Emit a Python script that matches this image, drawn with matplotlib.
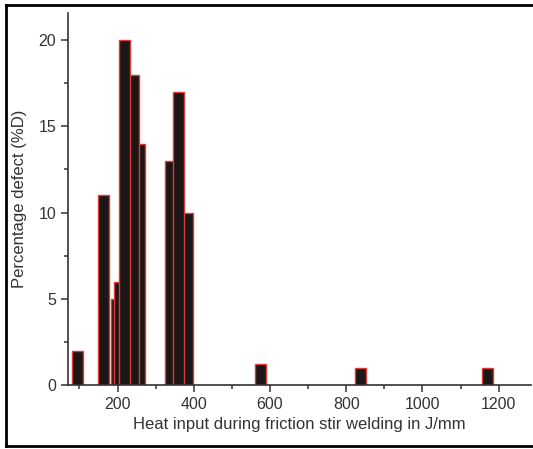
import matplotlib
matplotlib.use("Agg")
import matplotlib.pyplot as plt
from matplotlib.lines import Line2D
from matplotlib.ticker import MultipleLocator
import numpy as np

# heat input (J/mm) and percentage defect
heat_input = [94, 164, 198, 204, 218, 243, 258, 338, 359, 383, 575, 838, 1172]
defect = [2, 11, 5, 6, 20, 18, 14, 13, 17, 10, 1.2, 1, 1]

plt.rcParams['font.family'] = ['Liberation Sans', 'DejaVu Sans']

W, H = 533, 449
fig = plt.figure(figsize=(W / 100, H / 100), dpi=100)
ax = fig.add_axes([68 / W, 1 - 385 / H, (531 - 68) / W, (385 - 13) / H])

# taller bars sit on top of the shorter ones they overlap
order = np.argsort(defect, kind='stable')
for i in order:
    ax.bar(heat_input[i], defect[i], width=29, color='#1c1717',
           edgecolor='#dd3b33', linewidth=1.0, zorder=2 + defect[i] / 100)

ax.set_xlim(70, 1285)
ax.set_ylim(0, 21.57)
ax.xaxis.set_major_locator(MultipleLocator(200))
ax.xaxis.set_minor_locator(MultipleLocator(100))
ax.yaxis.set_major_locator(MultipleLocator(5))
ax.yaxis.set_minor_locator(MultipleLocator(2.5))
ax.set_xticks([200, 400, 600, 800, 1000, 1200])

for side in ['top', 'right']:
    ax.spines[side].set_visible(False)
for side in ['left', 'bottom']:
    ax.spines[side].set_linewidth(1.2)
    ax.spines[side].set_color('#333333')

ax.tick_params(which='major', direction='out', length=5, width=1.1,
               color='#333333', labelsize=11.5, labelcolor='#333333')
ax.tick_params(which='minor', direction='out', length=3, width=1.1, color='#333333')

ax.set_xlabel("Heat input during friction stir welding in J/mm",
              fontsize=12, color='#333333', labelpad=4)
ax.set_ylabel("Percentage defect (%D)", fontsize=12, color='#333333', labelpad=8)

# outer frame round the picture (left, top and bottom only)
x0, x1 = 6 / W, 1.0
y0, y1 = 3 / H, 1 - 5 / H
for xs, ys in [([x0, x0], [y0, y1]), ([x0, x1], [y1, y1]), ([x0, x1], [y0, y0])]:
    fig.add_artist(Line2D(xs, ys, transform=fig.transFigure,
                          color='black', linewidth=2))

fig.savefig("out.png", dpi=100)
